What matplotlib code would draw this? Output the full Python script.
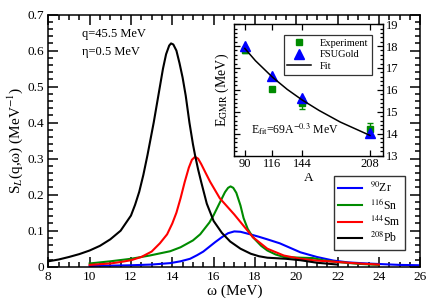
import matplotlib
matplotlib.use('Agg')
import matplotlib.pyplot as plt
from matplotlib.ticker import MultipleLocator, FixedLocator

plt.rcParams['font.family'] = ['Liberation Serif', 'DejaVu Serif']
plt.rcParams['mathtext.fontset'] = 'stix'

# Strength functions S_L(q, w)
w_zr = [10.0, 11.0, 12.0, 13.0, 13.9, 14.4, 14.86, 15.2, 15.5, 16.07, 16.4, 16.7, 17.0, 17.3,
        17.77, 18.2, 18.6, 19.2, 19.8, 20.2, 21.0, 21.8, 22.5, 23.4, 24.2, 25.0, 26.0]
s_zr = [0.002, 0.003, 0.004, 0.006, 0.010, 0.015, 0.022, 0.032, 0.042, 0.068, 0.082, 0.093, 0.098, 0.097,
        0.090, 0.083, 0.076, 0.065, 0.050, 0.040, 0.027, 0.017, 0.012, 0.009, 0.007, 0.005, 0.004]

w_sn = [10.0, 11.0, 12.0, 12.9, 13.9, 14.4, 15.0, 15.35, 15.8, 16.0, 16.3, 16.55, 16.7, 16.82,
        16.95, 17.1, 17.3, 17.45, 17.65, 17.9, 18.3, 18.6, 19.0, 19.4, 20.2, 20.8, 21.3, 21.8, 23.0, 24.0]
s_sn = [0.009, 0.015, 0.022, 0.031, 0.043, 0.054, 0.073, 0.090, 0.123, 0.143, 0.178, 0.207, 0.219, 0.223,
        0.219, 0.205, 0.170, 0.135, 0.105, 0.082, 0.058, 0.045, 0.034, 0.027, 0.025, 0.024, 0.018, 0.014, 0.008, 0.005]

w_sm = [10.0, 10.5, 11.0, 11.5, 12.0, 12.5, 13.0, 13.4, 13.75, 14.0, 14.2, 14.4, 14.6, 14.8, 14.95,
        15.1, 15.25, 15.4, 15.6, 15.83, 16.3, 17.0, 17.5, 17.9, 18.6, 19.4, 20.2, 21.0, 21.8, 23.0, 24.0]
s_sm = [0.005, 0.007, 0.009, 0.013, 0.018, 0.027, 0.042, 0.065, 0.090, 0.120, 0.150, 0.190, 0.235, 0.275, 0.297,
        0.305, 0.300, 0.285, 0.262, 0.236, 0.190, 0.145, 0.110, 0.082, 0.050, 0.031, 0.022, 0.017, 0.014, 0.009, 0.006]

w_pb = [8.0, 8.5, 9.0, 9.5, 10.0, 10.5, 11.0, 11.5, 12.0, 12.2, 12.4, 12.6, 12.8, 12.95, 13.1, 13.25,
        13.4, 13.55, 13.7, 13.85, 13.94, 14.05, 14.2, 14.35, 14.5, 14.65, 14.83, 15.0, 15.1, 15.25,
        15.4, 15.67, 16.0, 16.4, 16.8, 17.3, 17.8, 18.2, 18.6, 19.5, 20.2, 21.0, 22.0]
s_pb = [0.015, 0.020, 0.027, 0.035, 0.045, 0.058, 0.076, 0.100, 0.142, 0.172, 0.208, 0.255, 0.310, 0.355, 0.400, 0.450,
        0.500, 0.550, 0.590, 0.614, 0.620, 0.617, 0.600, 0.565, 0.525, 0.475, 0.400, 0.340, 0.310, 0.270,
        0.235, 0.175, 0.127, 0.094, 0.070, 0.050, 0.036, 0.029, 0.025, 0.022, 0.018, 0.011, 0.006]

# inset: GMR centroid energies
A_nuc = [90, 116, 144, 208]
e_exp = [17.82, 16.06, 15.38, 14.20]
e_exp_err = [0.13, 0.0, 0.25, 0.27]
e_fsu = [18.0, 16.62, 15.65, 14.04]
A_fit = [90, 100, 116, 130, 144, 160, 180, 208]
e_fit = [17.89, 17.33, 16.58, 16.02, 15.54, 15.06, 14.53, 13.92]

fig = plt.figure(figsize=(4.29, 2.98), dpi=100)
ax = fig.add_axes([0.1126, 0.105, 0.867, 0.846])

ax.plot(w_zr, s_zr, color='#0000ff', lw=1.5, label='$^{90}$Zr')
ax.plot(w_sn, s_sn, color='#008b00', lw=1.5, label='$^{116}$Sn')
ax.plot(w_sm, s_sm, color='#ff0000', lw=1.5, label='$^{144}$Sm')
ax.plot(w_pb, s_pb, color='black', lw=1.5, label='$^{208}$Pb')

ax.set_xlim(8, 26)
ax.set_ylim(0, 0.7)
ax.xaxis.set_major_locator(MultipleLocator(2))
ax.xaxis.set_minor_locator(MultipleLocator(0.5))
ax.yaxis.set_minor_locator(MultipleLocator(0.02))
ax.set_yticks([0, 0.1, 0.2, 0.3, 0.4, 0.5, 0.6, 0.7])
ax.set_yticklabels(['0', '0.1', '0.2', '0.3', '0.4', '0.5', '0.6', '0.7'])
ax.tick_params(which='both', direction='in', top=True, right=True, width=1.1, labelsize=9.5)
ax.tick_params(which='major', length=7, pad=3)
ax.tick_params(which='minor', length=3.5)
for sp in ax.spines.values():
    sp.set_linewidth(1.1)
ax.set_xlabel('ω (MeV)', fontsize=11, labelpad=1)
ax.set_ylabel('S$_L$(q,ω) (MeV$^{-1}$)', fontsize=11, labelpad=2)

ax.text(0.09, 0.923, 'q=45.5 MeV', transform=ax.transAxes, fontsize=9, va='center')
ax.text(0.09, 0.852, 'η=0.5 MeV', transform=ax.transAxes, fontsize=9, va='center')

leg = ax.legend(loc='lower right', bbox_to_anchor=(0.958, 0.068), fontsize=8.5, frameon=True,
                fancybox=False, edgecolor='black', handlelength=2.0, handletextpad=0.7,
                labelspacing=0.2, borderpad=0.35, borderaxespad=0)
leg.get_frame().set_linewidth(1.0)

# inset
ins = fig.add_axes([0.546, 0.478, 0.346, 0.441])
ins.plot(A_nuc, e_exp, 's', color='#008b00', ms=4.5, label='Experiment')
err_A = [a for a, e in zip(A_nuc, e_exp_err) if e > 0]
err_E = [v for v, e in zip(e_exp, e_exp_err) if e > 0]
err_v = [e for e in e_exp_err if e > 0]
ins.errorbar(err_A, err_E, yerr=err_v, fmt='none', ecolor='#008b00', capsize=2.5, elinewidth=1)
ins.plot(A_nuc, e_fsu, '^', color='#0000ff', ms=6.5, label='FSUGold')
ins.plot(A_fit, e_fit, '-', color='black', lw=1.1, label='Fit')
ins.set_xlim(80, 220)
ins.set_ylim(13, 19)
ins.xaxis.set_major_locator(FixedLocator(A_nuc))
ins.yaxis.set_major_locator(MultipleLocator(1))
ins.yaxis.set_minor_locator(MultipleLocator(0.2))
ins.yaxis.tick_right()
ins.tick_params(which='both', direction='in', top=True, left=True, right=True, width=0.9, labelsize=9)
ins.tick_params(which='major', length=4.5, pad=2)
ins.tick_params(which='minor', length=2.5)
for sp in ins.spines.values():
    sp.set_linewidth(1.0)
ins.set_xlabel('A', fontsize=9.5, labelpad=1)
ins.set_ylabel('E$_{\\rm GMR}$ (MeV)', fontsize=10, labelpad=2)
ins.yaxis.set_label_position('left')
ins.text(0.11, 0.2, 'E$_{\\rm fit}$=69A$^{-0.3}$ MeV', transform=ins.transAxes, fontsize=8.5, va='center')

leg2 = ins.legend(loc='upper right', bbox_to_anchor=(0.926, 0.916), fontsize=7.5, frameon=True,
                  fancybox=False, edgecolor='black', handlelength=2.3, labelspacing=0.2,
                  borderpad=0.35, borderaxespad=0)
leg2.get_frame().set_linewidth(0.9)

fig.savefig('out.png', dpi=100)
